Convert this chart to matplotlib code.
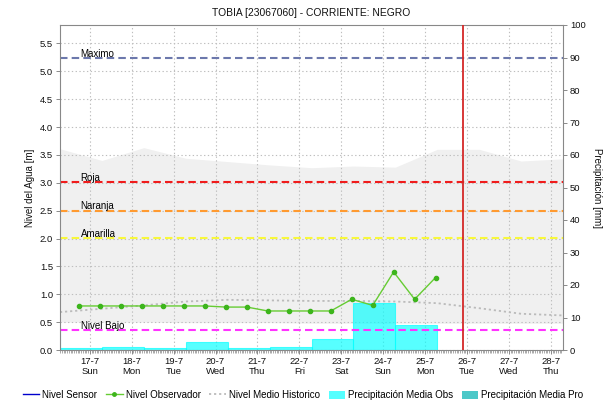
import matplotlib
matplotlib.use('Agg')
import matplotlib.pyplot as plt
from matplotlib.lines import Line2D
from matplotlib.patches import Patch
from matplotlib.ticker import MultipleLocator, FixedLocator

plt.rcParams['font.family'] = ['Liberation Sans', 'DejaVu Sans']

# ---------------- data ----------------
title = "TOBIA [23067060] - CORRIENTE: NEGRO"
ylabel_left = "Nivel del Agua [m]"
ylabel_right = "Precipitación [mm]"

# time axis: days since 17-7 00:00
day_ticks = [0, 1, 2, 3, 4, 5, 6, 7, 8, 9, 10, 11]
day_labels = ["17-7\nSun", "18-7\nMon", "19-7\nTue", "20-7\nWed", "21-7\nThu", "22-7\nFri",
              "23-7\nSat", "24-7\nSun", "25-7\nMon", "26-7\nTue", "27-7\nWed", "28-7\nThu"]
time_start = -0.71   # 16-7 07:00
time_end = 11.29     # 28-7 07:00
now_time = 8.90

# sensor (no data in this period)
sensor_time = []
sensor_level = []

# observer readings
obs_time = [-0.25, 0.25, 0.75, 1.25, 1.75, 2.25, 2.75, 3.25, 3.75,
            4.25, 4.75, 5.25, 5.75, 6.25, 6.75, 7.25, 7.75, 8.25]
obs_level = [0.79, 0.79, 0.79, 0.79, 0.79, 0.79, 0.79, 0.77, 0.77,
             0.70, 0.70, 0.70, 0.70, 0.91, 0.80, 1.40, 0.91, 1.30]

# historic statistics (daily, 07:00)
hist_time = [-0.71, 0.29, 1.29, 2.29, 3.29, 4.29, 5.29, 6.29, 7.29, 8.29, 9.29, 10.29, 11.29]
hist_max = [3.61, 3.40, 3.63, 3.44, 3.38, 3.32, 3.27, 3.30, 3.28, 3.60, 3.60, 3.39, 3.43]
hist_min = [0.50, 0.50, 0.50, 0.49, 0.49, 0.49, 0.48, 0.48, 0.48, 0.48, 0.48, 0.48, 0.48]
hist_mean = [0.68, 0.74, 0.80, 0.87, 0.90, 0.89, 0.88, 0.88, 0.87, 0.84, 0.75, 0.65, 0.62]

# daily precipitation (07:00 -> 07:00), left edge of each day
prec_start = [-1.71, -0.71, 0.29, 1.29, 2.29, 3.29, 4.29, 5.29, 6.29, 7.29]
prec_obs = [7.0, 0.7, 1.0, 0.7, 2.6, 0.7, 1.0, 3.5, 14.6, 7.8]
prec_pro_start = []
prec_pro = []

# alert thresholds
thr_names = ["Maximo", "Roja", "Naranja", "Amarilla", "Nivel Bajo"]
thr_values = [5.23, 3.01, 2.50, 2.01, 0.35]
thr_colors = ["#6C78AC", "#F01C1C", "#FF9A30", "#F8F83A", "#FF33FF"]

# ---------------- figure ----------------
W, H = 610, 405
fig = plt.figure(figsize=(W / 100, H / 100), dpi=100)
L, R, T, B = 60, 563, 25, 350
rect = [L / W, 1 - B / H, (R - L) / W, (B - T) / H]

ax_bg = fig.add_axes(rect)
ax_p = ax_bg.twinx()
ax = ax_bg.twinx()
ax_bg.set_zorder(1)
ax_p.set_zorder(2)
ax.set_zorder(3)
for a in (ax_p, ax):
    a.patch.set_visible(False)

ymax_m = 5.83
for a in (ax_bg, ax):
    a.set_ylim(0, ymax_m)
ax_p.set_ylim(0, 100)
ax_bg.set_xlim(time_start, time_end)

# background band + grid
ax_bg.fill_between(hist_time, hist_min, hist_max, color="#F0F0F0", lw=0, zorder=0)
ax_bg.set_axisbelow(True)
ax_bg.grid(True, which='major', color="#BEBEBE", lw=0.8, linestyle=(0, (1.2, 2.2)))

# precipitation bars
widths = [1.0] * len(prec_start)
ax_p.bar(prec_start, prec_obs, width=widths, align='edge', color="#00FFFF", alpha=0.66,
         edgecolor="#00FFFF", linewidth=0.8)
ax_p.bar(prec_pro_start, prec_pro, width=1.0, align='edge', color="#4CC8C8")

# threshold lines
for name, v, c in zip(thr_names, thr_values, thr_colors):
    ax.axhline(v, color=c, lw=1.5, linestyle=(0, (3.6, 2.0)), zorder=2)
    ax.text(-0.22, v + 0.025, name, fontsize=7, color="#000000", va='baseline', ha='left', zorder=3)

# historic mean
ax.plot(hist_time, hist_mean, color="#BBBBBB", lw=1.3, linestyle=(0, (1.2, 1.6)), zorder=2)
# sensor
ax.plot(sensor_time, sensor_level, color="#0000CC", lw=1)
# observer
ax.plot(obs_time, obs_level, color="#66CC33", lw=1.0, marker='o', markersize=3,
        markerfacecolor="#3DB51C", markeredgecolor="#3DB51C", zorder=4)
# now line
ax.axvline(now_time, color="#D42828", lw=1.3, zorder=5)

# ticks
tick_fs = 6.8
ax_bg.xaxis.set_major_locator(FixedLocator(day_ticks))
ax_bg.set_xticklabels(day_labels)
ax_bg.xaxis.set_minor_locator(MultipleLocator(1 / 24))
ax_bg.tick_params(axis='x', which='major', length=3, width=0.6, color="#777777", labelsize=tick_fs, pad=2,
                  labelcolor="#111111")
ax_bg.tick_params(axis='x', which='minor', length=2, width=0.5, color="#888888")
ax_bg.yaxis.set_major_locator(MultipleLocator(0.5))
ax_bg.yaxis.set_major_formatter(matplotlib.ticker.FormatStrFormatter('%.1f'))
ax_bg.tick_params(axis='y', length=3, width=0.6, color="#777777", labelsize=tick_fs, pad=2,
                  labelcolor="#111111")
ax_p.yaxis.set_major_locator(MultipleLocator(10))
ax_p.tick_params(axis='y', length=3, width=0.6, color="#777777", labelsize=tick_fs, pad=2,
                 labelcolor="#111111")
ax.tick_params(axis='y', right=False, labelright=False, left=False, labelleft=False)

for a in (ax_bg, ax_p):
    for s in a.spines.values():
        s.set_visible(False)
for s in ax.spines.values():
    s.set_color("#888888")
    s.set_linewidth(0.8)

# labels
fig.text(0.51, 1 - 13 / H, title, ha='center', va='center', fontsize=7.4, color="#111111")
fig.text(30 / W, 1 - 188 / H, ylabel_left, rotation=90, ha='center', va='center', fontsize=7,
         color="#111111")
fig.text(597 / W, 1 - 188 / H, ylabel_right, rotation=270, ha='center', va='center', fontsize=7,
         color="#111111")

# legend
handles = [
    Line2D([], [], color="#0000CC", lw=1),
    Line2D([], [], color="#66CC33", lw=1, marker='o', markersize=2.5, markerfacecolor="#3DB51C",
           markeredgecolor="#3DB51C"),
    Line2D([], [], color="#BBBBBB", lw=1.3, linestyle=(0, (1.2, 1.6))),
    Patch(facecolor="#55FFFF", edgecolor='none'),
    Patch(facecolor="#4CC8C8", edgecolor='none'),
]
labels = ["Nivel Sensor", "Nivel Observador", "Nivel Medio Historico",
          "Precipitación Media Obs", "Precipitación Media Pro"]
fig.legend(handles, labels, loc='center', bbox_to_anchor=(0.497, 1 - 395 / H), ncol=5, frameon=False,
           fontsize=7, handlelength=1.7, handletextpad=0.3, columnspacing=0.9, handleheight=0.9)

fig.savefig("out.png", dpi=100)
